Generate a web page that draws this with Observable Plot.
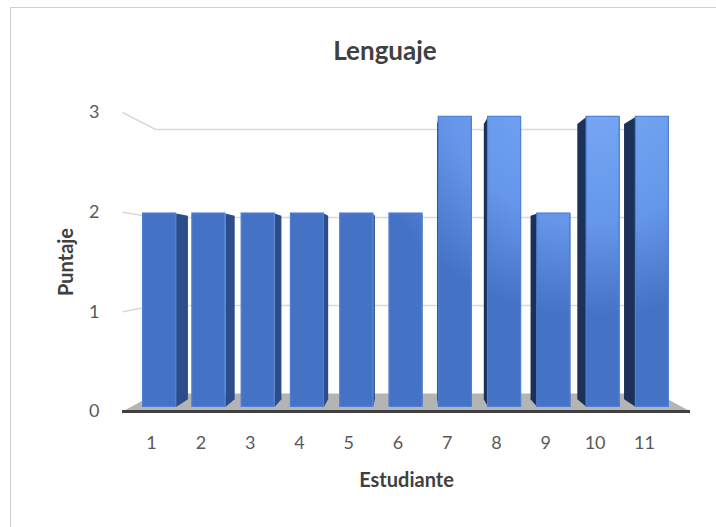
<!DOCTYPE html>
<html>
<head>
<meta charset="utf-8">
<script src="https://cdn.jsdelivr.net/npm/d3@7"></script>
<script src="https://cdn.jsdelivr.net/npm/@observablehq/plot@0.6"></script>
<style>
  html, body { margin: 0; padding: 0; background: #fff; }
  body { width: 716px; height: 527px; overflow: hidden; position: relative; font-family: Lato, "Open Sans", sans-serif; }
  #frame { position: absolute; left: 10px; top: 7px; width: 780px; height: 600px; border: 1.5px solid #cfcfcf; box-sizing: border-box; }
  #title { position: absolute; left: 0; top: 37px; width: 770px; text-align: center; font-size: 26px; line-height: 26px; font-weight: 700; color: #404040; }
  #chart { position: absolute; left: 0; top: 80px; }
</style>
</head>
<body>
<div id="frame"></div>
<div id="title"></div>
<div id="chart"></div>
<script>
// ---- data ----
const titleText = "Lenguaje";
const xTitle = "Estudiante";
const yTitle = "Puntaje";
const students = [1, 2, 3, 4, 5, 6, 7, 8, 9, 10, 11];
const scores = [2, 2, 2, 2, 2, 2, 3, 3, 2, 3, 3];
const yTicks = [0, 1, 2, 3];

// ---- 3D perspective geometry (data space) ----
const X_MIN = 0.42, X_MAX = 11.6;     // floor / axis plane extent in category units
const CX = 6, CY = 1.545;             // vanishing centre
const K_WALL = 0.883, K_FRONT = 0.97, K_BACK = 0.92, HALF = 0.335;
const P = (x, k) => CX + (x - CX) * k;
const Q = (v, k) => CY + (v - CY) * k;

const bars = students.map((s, i) => ({ s, v: scores[i] }));

const fronts = bars.map(d => ({
  x1: P(d.s - HALF, K_FRONT), x2: P(d.s + HALF, K_FRONT),
  y1: Q(0, K_FRONT), y2: Q(d.v, K_FRONT)
}));

function sidePoly(d, side) {
  const X = d.s + side * HALF;
  return [
    { id: d.s, x: P(X, K_FRONT), y: Q(0, K_FRONT) },
    { id: d.s, x: P(X, K_FRONT), y: Q(d.v, K_FRONT) },
    { id: d.s, x: P(X, K_BACK), y: Q(d.v, K_BACK) },
    { id: d.s, x: P(X, K_BACK), y: Q(0, K_BACK) }
  ];
}
const rightSides = bars.flatMap(d => sidePoly(d, 1));
const leftSides = bars.flatMap(d => sidePoly(d, -1));

const floor = [
  { x: X_MIN, y: 0 }, { x: X_MAX, y: 0 },
  { x: P(X_MAX, K_WALL), y: Q(0, K_WALL) }, { x: P(X_MIN, K_WALL), y: Q(0, K_WALL) }
];

const grid = yTicks.filter(v => v > 0);

document.getElementById("title").textContent = titleText;

const defs = () => {
  const g = d3.create("svg:defs");
  const rg = g.append("radialGradient").attr("id", "barGrad")
    .attr("gradientUnits", "userSpaceOnUse")
    .attr("cx", 590).attr("cy", 0).attr("r", 290);
  [[0, "#7aaaf7"], [0.5, "#6696e9"], [0.82, "#4472c4"], [1, "#4472c4"]]
    .forEach(([o, c]) => rg.append("stop").attr("offset", o).attr("stop-color", c));
  return g.node();
};

const chart = Plot.plot({
  width: 716,
  height: 447,
  marginLeft: 122,
  marginRight: 26,
  marginTop: 32,
  marginBottom: 116,
  x: { type: "linear", domain: [X_MIN, X_MAX], axis: null },
  y: { domain: [0, 3] },
  style: { fontFamily: "Lato, 'Open Sans', sans-serif", fontSize: "18px", color: "#595959", background: "transparent" },
  marks: [
    defs,
    // back-wall gridlines
    Plot.link(grid, { x1: X_MIN, y1: v => v, x2: P(X_MIN, K_WALL), y2: v => Q(v, K_WALL), stroke: "#d9d9d9", strokeWidth: 1.5 }),
    Plot.link(grid, { x1: P(X_MIN, K_WALL), y1: v => Q(v, K_WALL), x2: P(X_MAX, K_WALL), y2: v => Q(v, K_WALL), stroke: "#d9d9d9", strokeWidth: 1.5 }),
    // floor
    Plot.line(floor, { x: "x", y: "y", fill: "#b4b4b4", stroke: "none" }),
    // bar sides
    Plot.line(rightSides, { x: "x", y: "y", z: "id", fill: "#2c4d8a", stroke: "none" }),
    Plot.line(leftSides, { x: "x", y: "y", z: "id", fill: "#1b3158", stroke: "none" }),
    // bar fronts
    Plot.rect(fronts, { x1: "x1", x2: "x2", y1: "y1", y2: "y2", fill: "url(#barGrad)", stroke: "#4f80d6", strokeWidth: 1.2 }),
    // floor front edge
    Plot.ruleY([0], { x1: X_MIN, x2: X_MAX, stroke: "#404040", strokeWidth: 3 }),
    // axes
    Plot.axisY(yTicks, { tickSize: 0, tickPadding: 23, fontSize: 18, tickFormat: "d", label: null }),
    Plot.text(students, { x: s => P(s, K_FRONT), y: 0, text: s => String(s), dy: 32, dx: -8, fontSize: 18, fill: "#595959" }),
    Plot.text([yTitle], { frameAnchor: "left", y: () => 1.5, dx: -56, rotate: -90, textAnchor: "middle", lineAnchor: "middle", text: d => d, fontWeight: "bold", fontSize: 20, fill: "#404040" }),
    Plot.text([xTitle], { frameAnchor: "bottom", dy: 69, textAnchor: "middle", lineAnchor: "middle", text: d => d, fontWeight: "bold", fontSize: 20, fill: "#404040" })
  ]
});

document.getElementById("chart").appendChild(chart);
</script>
</body>
</html>
